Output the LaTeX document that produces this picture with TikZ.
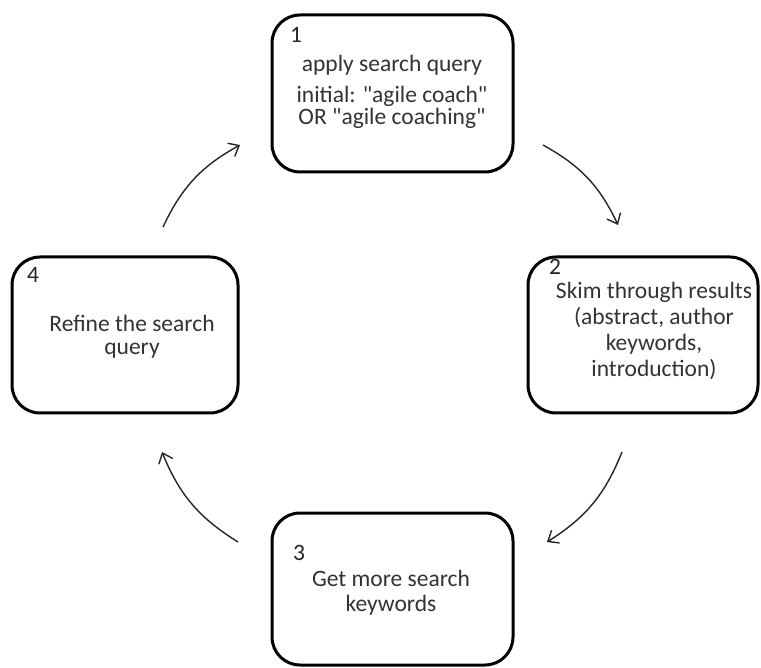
\documentclass[tikz,border=0pt]{standalone}
\usepackage{fontspec}
\setmainfont{Carlito}[Ligatures=TeXOff]
\usetikzlibrary{arrows.meta}
\begin{document}
\begin{tikzpicture}[x=1pt,y=-1pt,
  stepbox/.style={draw=black, line width=3pt, rounded corners=28pt, inner sep=0pt},
  txt/.style={font=\fontsize{23.5}{26}\selectfont, text=black!80, align=center, inner sep=0pt},
  num/.style={font=\fontsize{23.5}{26}\selectfont, text=black!85, inner sep=0pt, anchor=west},
  flow/.style={line width=1.4pt, black!85, -{Straight Barb[length=9pt,width=15pt,line width=1.4pt]}, bend left=18}]
\useasboundingbox[fill=white] (0,0) rectangle (761,668);
% boxes
\node[stepbox, minimum width=241pt, minimum height=157pt] (b1) at (392.5,93.5) {};
\node[stepbox, minimum width=230pt, minimum height=156pt] (b2) at (643,335) {};
\node[stepbox, minimum width=241pt, minimum height=152pt] (b3) at (392.5,589) {};
\node[stepbox, minimum width=226pt, minimum height=156pt] (b4) at (125,335) {};
% numbers
\node[num] (n1) at (290,35) {1};
\node[num] (n2) at (549,267) {2};
\node[num] (n3) at (293,553) {3};
\node[num] (n4) at (27,275) {4};
% texts
\node[txt] (t1a) at (392,65) {apply search query};
\node[txt, font=\fontsize{23.5}{21.5}\selectfont] (t1b) at (392,107.5) {initial: "agile coach"\\OR "agile coaching"};
\node[txt] (t2) at (654,331) {Skim through results\\(abstract, author\\keywords,\\introduction)};
\node[txt, font=\fontsize{23.5}{23}\selectfont] (t4) at (132,336.5) {Refine the search\\query};
\node[txt, font=\fontsize{23.5}{25}\selectfont] (t3) at (391,592.5) {Get more search\\keywords};
% arrow ends
\coordinate (a41s) at (163,227);
\coordinate (a41e) at (240,145);
\coordinate (a12s) at (543,145);
\coordinate (a12e) at (618,225);
\coordinate (a23s) at (622,452);
\coordinate (a23e) at (547,542);
\coordinate (a34s) at (238,542);
\coordinate (a34e) at (162,452);
\draw[flow] (a41s) to (a41e);
\draw[flow] (a12s) to (a12e);
\draw[flow] (a23s) to (a23e);
\draw[flow] (a34s) to (a34e);
\end{tikzpicture}
\end{document}
